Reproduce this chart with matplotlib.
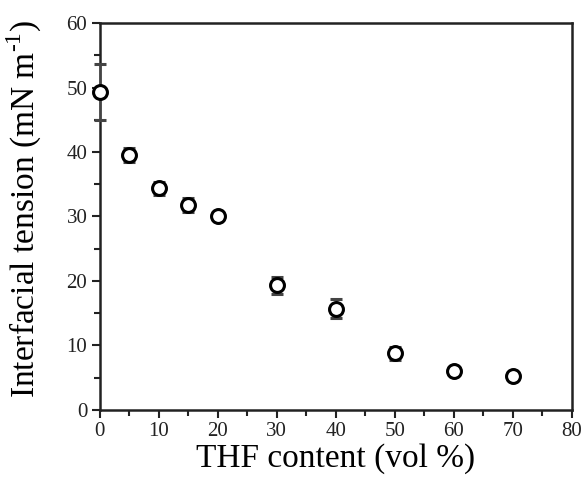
import matplotlib
matplotlib.use("Agg")
import matplotlib.pyplot as plt
from matplotlib.ticker import MultipleLocator

plt.rcParams['font.family'] = ['Liberation Serif', 'DejaVu Serif']
plt.rcParams['mathtext.fontset'] = 'custom'
plt.rcParams['mathtext.rm'] = 'Liberation Serif'

# THF 含量与界面张力
thf = [0, 5, 10, 15, 20, 30, 40, 50, 60, 70]
tension = [49.3, 39.5, 34.4, 31.8, 30.1, 19.3, 15.7, 8.8, 6.1, 5.2]
err = [4.4, 1.1, 1.0, 1.1, 0.5, 1.3, 1.5, 1.0, 0.6, 0.5]

fig = plt.figure(figsize=(5.84, 4.8), dpi=100)
ax = fig.add_axes([0.171, 0.146, 0.808, 0.806])

ax.errorbar(thf, tension, yerr=err, fmt='o', mfc='white', mec='black', mew=2.2,
            ms=10, ecolor='#444444', elinewidth=1, capsize=4, capthick=1,
            color='black', clip_on=False, zorder=3)

ax.set_xlim(0, 80)
ax.set_ylim(0, 60)
ax.xaxis.set_major_locator(MultipleLocator(10))
ax.xaxis.set_minor_locator(MultipleLocator(5))
ax.yaxis.set_major_locator(MultipleLocator(10))
ax.yaxis.set_minor_locator(MultipleLocator(5))
ax.tick_params(which='both', direction='out', top=False, right=False, width=1.5,
               labelsize=15, colors='#222222')
ax.tick_params(which='major', length=6, pad=3)
ax.tick_params(which='minor', length=4)
for s in ax.spines.values():
    s.set_linewidth(1.8)
    s.set_color('#222222')

ax.set_xlabel('THF content (vol %)', fontsize=24, labelpad=1)
ax.set_ylabel('Interfacial tension (mN m$^{\\mathregular{\u2010}1}$)', fontsize=24)
ax.yaxis.set_label_coords(-0.118, 0.52)

fig.savefig('out.png', dpi=100)
